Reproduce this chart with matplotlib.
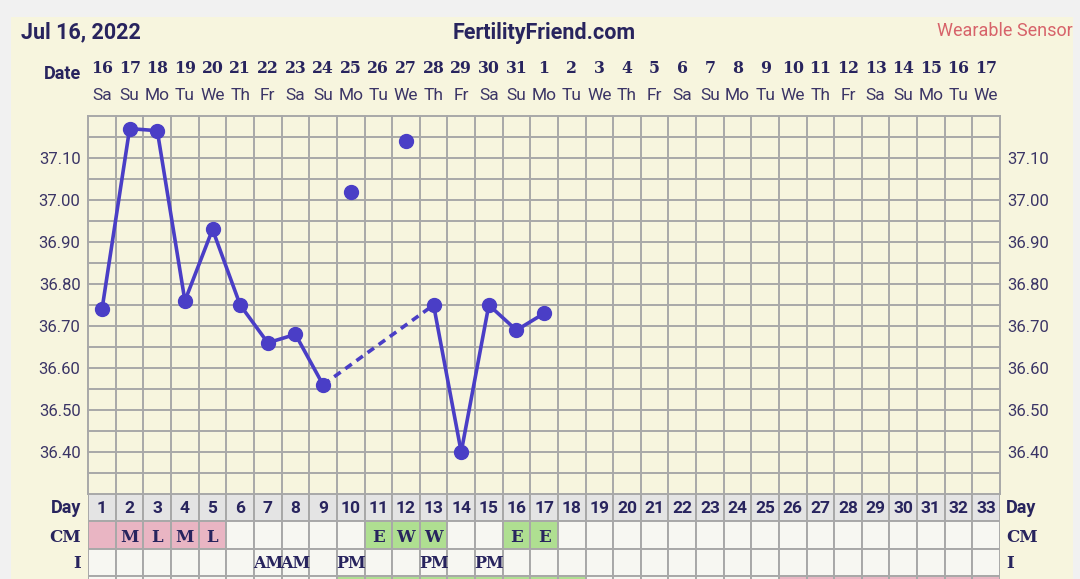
import matplotlib
matplotlib.use("Agg")
import matplotlib.pyplot as plt
from matplotlib.patches import Rectangle
from matplotlib.transforms import blended_transform_factory
import numpy as np

# ---------------- data ----------------
dates = [16, 17, 18, 19, 20, 21, 22, 23, 24, 25, 26, 27, 28, 29, 30, 31,
         1, 2, 3, 4, 5, 6, 7, 8, 9, 10, 11, 12, 13, 14, 15, 16, 17]
weekdays = ['Sa', 'Su', 'Mo', 'Tu', 'We', 'Th', 'Fr', 'Sa', 'Su', 'Mo', 'Tu',
            'We', 'Th', 'Fr', 'Sa', 'Su', 'Mo', 'Tu', 'We', 'Th', 'Fr', 'Sa',
            'Su', 'Mo', 'Tu', 'We', 'Th', 'Fr', 'Sa', 'Su', 'Mo', 'Tu', 'We']
cycle_days = list(range(1, 34))
temp_days = [1, 2, 3, 4, 5, 6, 7, 8, 9, 10, 12, 13, 14, 15, 16, 17]
temps = [36.74, 37.17, 37.165, 36.76, 36.93, 36.75, 36.66, 36.68, 36.56,
         37.02, 37.14, 36.75, 36.40, 36.75, 36.69, 36.73]
excluded_days = [10, 12]
temp_ticks = [36.40, 36.50, 36.60, 36.70, 36.80, 36.90, 37.00, 37.10]

cm_labels = {2: 'M', 3: 'L', 4: 'M', 5: 'L', 11: 'E', 12: 'W', 13: 'W', 16: 'E', 17: 'E'}
cm_pink_days = [1, 2, 3, 4, 5]
cm_green_days = [11, 12, 13, 16, 17]
i_labels = {7: 'AM', 8: 'AM', 10: 'PM', 13: 'PM', 15: 'PM'}
row4_green_days = [10, 11, 12, 13, 14, 15, 16, 17, 18]
row4_pink_days = [26, 27, 28, 29, 30, 31, 32, 33]

# ---------------- style ----------------
W, H = 1080, 579
PAGE = '#f1f1f1'
CREAM = '#f7f5de'
NAVY = '#28245e'
LABEL = '#3b3566'
LINE = '#4a3ec6'
GRID = '#a8a8a8'
CELL = '#f7f7f2'
DAYBG = '#e4e4e4'
PINK = '#e9b5c3'
GREEN = '#afdf91'
SANS = ['Roboto', 'DejaVu Sans']
SERIF = ['DejaVu Serif']

def fx(x):
    return x / W

def fy(y):
    return 1 - y / H

fig = plt.figure(figsize=(W / 100, H / 100), dpi=100, facecolor=PAGE)
fig.patches.append(Rectangle((fx(11), fy(579)), fx(1073) - fx(11), fy(17) - fy(579),
                             transform=fig.transFigure, facecolor=CREAM,
                             edgecolor='none', zorder=-10))

left_px, right_px = 88.2, 1000.0
top_px, bot_px = 116.0, 494.0
ax = fig.add_axes([fx(left_px), fy(bot_px), (right_px - left_px) / W, (bot_px - top_px) / H])
ax.set_facecolor(CREAM)
ax.set_xlim(0.5, 33.5)
ax.set_ylim(36.30, 37.20)

# grid
for x in np.arange(0.5, 34.0, 1.0):
    ax.axvline(x, color=GRID, lw=1.4, zorder=1, clip_on=False)
for y in np.arange(36.30, 37.21, 0.05):
    ax.axhline(y, color=GRID, lw=1.4, zorder=1, clip_on=False)
for s in ax.spines.values():
    s.set_visible(False)

ax.set_xticks([])
ax.set_yticks(temp_ticks)
ax.set_yticklabels([f'{t:.2f}' for t in temp_ticks])
ax.tick_params(axis='y', length=0, labelsize=12, labelcolor=LABEL,
               left=False, right=False, labelleft=True, labelright=True, pad=5.5)
for lab in ax.get_yticklabels():
    lab.set_family(SANS)

# temperature line
valid = [(d, t) for d, t in zip(temp_days, temps) if d not in excluded_days]
for (d0, t0), (d1, t1) in zip(valid[:-1], valid[1:]):
    ls = '-' if d1 - d0 == 1 else (0, (2.2, 1.6))
    ax.plot([d0, d1], [t0, t1], color=LINE, lw=2.6, ls=ls, zorder=3,
            solid_capstyle='round')
ax.plot(temp_days, temps, ls='none', marker='o', ms=10, color=LINE, zorder=4)

# header texts
fig.text(fx(21), fy(38.7), 'Jul 16, 2022', fontsize=15.5, fontweight='bold',
         color=NAVY, family=SANS, ha='left', va='baseline')
fig.text(fx(544), fy(38.7), 'FertilityFriend.com', fontsize=15.5, fontweight='bold',
         color=NAVY, family=SANS, ha='center', va='baseline')
fig.text(fx(1073), fy(36), 'Wearable Sensor', fontsize=13, color='#d7636a',
         family=SANS, ha='right', va='baseline')
fig.text(fx(81), fy(79), 'Date', fontsize=13, fontweight='bold', color=NAVY,
         family=SANS, ha='right', va='baseline')

tr = blended_transform_factory(ax.transData, fig.transFigure)
for d, dt, wd in zip(cycle_days, dates, weekdays):
    ax.text(d, fy(73), str(dt), transform=tr, fontsize=11.3, fontweight='bold',
            color=NAVY, family=SERIF, ha='center', va='baseline', clip_on=False)
    ax.text(d, fy(100), wd, transform=tr, fontsize=12.5, color=LABEL,
            family=SANS, ha='center', va='baseline', clip_on=False)

# ---------------- table ----------------
row_h = 27.3
nrows = 4
tab_bottom = bot_px + nrows * row_h
axt = fig.add_axes([fx(left_px), fy(tab_bottom), (right_px - left_px) / W, nrows * row_h / H])
axt.set_xlim(0.5, 33.5)
axt.set_ylim(nrows, 0)
axt.axis('off')

for d in cycle_days:
    axt.add_patch(Rectangle((d - 0.5, 0), 1, 1, facecolor=DAYBG, edgecolor=GRID, lw=1.4))
    c = PINK if d in cm_pink_days else (GREEN if d in cm_green_days else CELL)
    axt.add_patch(Rectangle((d - 0.5, 1), 1, 1, facecolor=c, edgecolor=GRID, lw=1.4))
    axt.add_patch(Rectangle((d - 0.5, 2), 1, 1, facecolor=CELL, edgecolor=GRID, lw=1.4))
    c = GREEN if d in row4_green_days else (PINK if d in row4_pink_days else CELL)
    axt.add_patch(Rectangle((d - 0.5, 3), 1, 1, facecolor=c, edgecolor=GRID, lw=1.4))

trt = blended_transform_factory(axt.transData, fig.transFigure)
for d in cycle_days:
    axt.text(d, fy(513.3), str(d), transform=trt, fontsize=12.5, fontweight='bold',
             color=NAVY, family=SANS, ha='center', va='baseline', clip_on=False)
for d, s in cm_labels.items():
    axt.text(d, fy(541.7), s, transform=trt, fontsize=12, fontweight='bold',
             color=NAVY, family=SERIF, ha='center', va='baseline', clip_on=False)
for d, s in i_labels.items():
    axt.text(d, fy(568.3), s, transform=trt, fontsize=11.5, fontweight='bold',
             color=NAVY, family=SERIF, ha='center', va='baseline', clip_on=False)

for label, yb, fam in [('Day', 513.3, SANS), ('CM', 541.7, SERIF), ('I', 568.3, SERIF)]:
    fs = 13 if label == 'Day' else 12
    fig.text(fx(81), fy(yb), label, fontsize=fs, fontweight='bold', color=NAVY,
             family=fam, ha='right', va='baseline')
    fig.text(fx(1006), fy(yb), label, fontsize=fs, fontweight='bold', color=NAVY,
             family=fam, ha='left', va='baseline')

fig.savefig('out.png', dpi=100, facecolor=PAGE)
